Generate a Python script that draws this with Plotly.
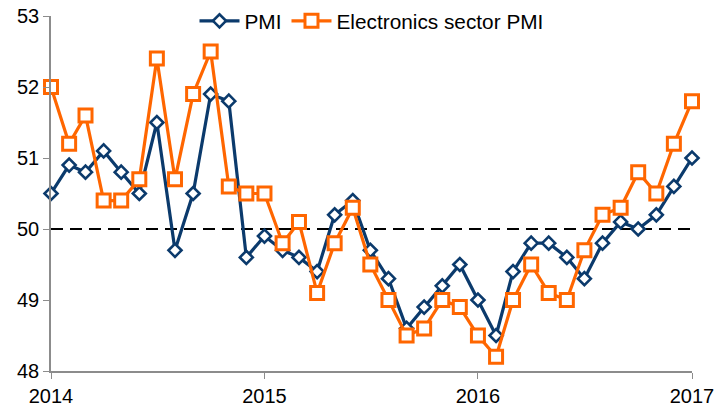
import plotly.graph_objects as go

months = [f"{2014 + i // 12}-{i % 12 + 1:02d}-01" for i in range(37)]

pmi = [50.5, 50.9, 50.8, 51.1, 50.8, 50.5, 51.5, 49.7, 50.5, 51.9, 51.8, 49.6,
       49.9, 49.7, 49.6, 49.4, 50.2, 50.4, 49.7, 49.3, 48.6, 48.9, 49.2, 49.5,
       49.0, 48.5, 49.4, 49.8, 49.8, 49.6, 49.3, 49.8, 50.1, 50.0, 50.2, 50.6, 51.0]

electronics = [52.0, 51.2, 51.6, 50.4, 50.4, 50.7, 52.4, 50.7, 51.9, 52.5, 50.6, 50.5,
               50.5, 49.8, 50.1, 49.1, 49.8, 50.3, 49.5, 49.0, 48.5, 48.6, 49.0, 48.9,
               48.5, 48.2, 49.0, 49.5, 49.1, 49.0, 49.7, 50.2, 50.3, 50.8, 50.5, 51.2, 51.8]

year_ticks = ["2014-01-01", "2015-01-01", "2016-01-01", "2017-01-01"]
year_labels = ["2014", "2015", "2016", "2017"]
y_ticks = [48, 49, 50, 51, 52, 53]
threshold = 50

NAVY = "#0B3A6C"
ORANGE = "#FF6600"

fig = go.Figure()
fig.add_trace(go.Scatter(
    x=months, y=pmi, name="PMI", mode="lines+markers",
    line=dict(color=NAVY, width=3.2),
    marker=dict(symbol="diamond", size=10, color="white", line=dict(color=NAVY, width=2.6)),
    cliponaxis=False,
))
fig.add_trace(go.Scatter(
    x=months, y=electronics, name="Electronics sector PMI", mode="lines+markers",
    line=dict(color=ORANGE, width=3.2),
    marker=dict(symbol="square", size=13, color="white", line=dict(color=ORANGE, width=3)),
    cliponaxis=False,
))
fig.add_shape(type="line", xref="x", yref="y", x0=months[0], x1=months[-1],
              y0=threshold, y1=threshold, line=dict(color="black", width=1.8, dash="12px,7px"),
              layer="below")

fig.update_layout(
    width=716, height=406,
    margin=dict(l=51, r=24, t=16, b=35, autoexpand=False),
    plot_bgcolor="white", paper_bgcolor="white",
    font=dict(family="Liberation Sans, Arial, sans-serif", size=20, color="black"),
    showlegend=True,
    legend=dict(orientation="h", x=0.5, xanchor="center", y=0.985, yanchor="middle",
                bgcolor="rgba(0,0,0,0)", font=dict(size=20.8), itemwidth=40,
                tracegroupgap=0),
    xaxis=dict(
        type="date", range=[months[0], months[-1]],
        tickvals=year_ticks, ticktext=year_labels, automargin=False,
        showgrid=False, zeroline=False, showline=True, linecolor="#8c8c8c", linewidth=1.5,
        ticks="outside", ticklen=6, tickcolor="#8c8c8c", tickfont=dict(size=20),
    ),
    yaxis=dict(
        range=[48, 53], tickvals=y_ticks, automargin=False,
        showgrid=False, zeroline=False, showline=True, linecolor="#8c8c8c", linewidth=1.5,
        ticks="outside", ticklen=6, tickcolor="#8c8c8c", tickfont=dict(size=20),
    ),
)

fig.write_html("out.html", config={"displayModeBar": False},
               post_script="document.body.style.margin='0';")
